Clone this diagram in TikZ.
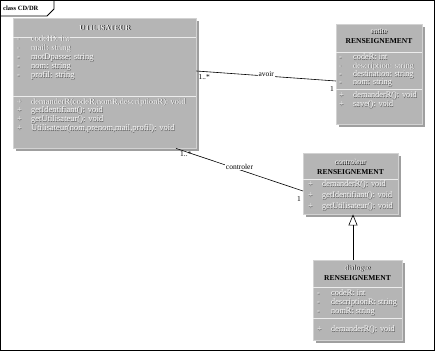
\documentclass[tikz,border=0pt]{standalone}
\usepackage{fontspec}
\setmainfont{Liberation Serif}
\usetikzlibrary{shadows,arrows.meta,calc}
\newcommand\emb[2][gray!70!black]{\leavevmode\rlap{\raisebox{-0.5pt}{\kern0.5pt\textcolor{#1}{#2}}}\textcolor{white}{#2}}
\newcommand\embh[1]{\leavevmode\rlap{\raisebox{-0.7pt}{\kern0.7pt\textcolor{black}{#1}}}\textcolor{white!92!gray}{#1}}
\newcommand\rw[2]{\makebox[14pt][l]{\emb{#1}}\emb{#2}}
\tikzset{
  cls/.style={draw=gray!35, fill=gray!58, anchor=north west, inner sep=0pt,
    drop shadow={shadow xshift=2.5pt, shadow yshift=-2.5pt, fill=gray!75, opacity=1}},
  sep/.style={draw=white!85!gray, line width=0.6pt},
  hdr/.style={inner sep=0pt, align=center, font=\fontsize{7.5}{10}\selectfont},
  comp/.style={inner sep=0pt, anchor=north west, align=left},
  assoc/.style={draw=black, line width=0.6pt},
  lbl/.style={font=\fontsize{7.5}{9}\selectfont, inner sep=1pt},
  mult/.style={font=\fontsize{7.5}{9}\selectfont, inner sep=0pt},
}
\begin{document}
\begin{tikzpicture}[x=1pt,y=-1pt]
\useasboundingbox (0,0) rectangle (435,351);
\fill[white] (0,0) rectangle (435,351);
% frame
\draw[line width=0.8pt] (0.5,0.5) rectangle (434.5,350.5);
\draw[line width=0.8pt] (0.5,16) -- (47,16) -- (54,9) -- (54,0.5);
\node[anchor=west, inner sep=0pt, font=\bfseries\fontsize{6.5}{8}\selectfont] (title) at (3,8.5) {class CD/DR};

% UTILISATEUR
\node[cls, minimum width=183pt, minimum height=130pt] (U) at (13,18) {};
\draw[sep] ($(U.north west)+(0,19)$) -- ($(U.north east)+(0,19)$);
\draw[sep] ($(U.north west)+(0,78)$) -- ($(U.north east)+(0,78)$);
\node[hdr, font=\bfseries\fontsize{7.5}{10}\selectfont] (Uh) at (105,28) {\embh{UTILISATEUR}};
\node[comp, font=\fontsize{8.5}{9.2}\selectfont] (Ua) at (17,35) {\rw{-}{codeID: int}\\ \rw{-}{mail: string}\\ \rw{-}{motDpasse: string}\\ \rw{-}{nom: string}\\ \rw{-}{profil: string}};
\node[comp, font=\fontsize{8.5}{8.8}\selectfont] (Um) at (17,98) {\rw{+}{demanderR(codeR,nomR,descriptionR): void}\\ \rw{+}{getIdentifiant(): void}\\ \rw{+}{getUtilisateur(): void}\\ \rw{+}{Utilisateur(nom,prenom,mail,profil): void}};

% entite RENSEIGNEMENT
\node[cls, minimum width=86pt, minimum height=100pt] (E) at (336,24) {};
\draw[sep] ($(E.north west)+(0,28)$) -- ($(E.north east)+(0,28)$);
\draw[sep] ($(E.north west)+(0,65)$) -- ($(E.north east)+(0,65)$);
\node[hdr] (Eh) at (379,36) {\embh{entite}\\ \textbf{RENSEIGNEMENT}};
\node[comp, font=\fontsize{8.3}{8.3}\selectfont] (Ea) at (339,54) {\rw{-}{codeR: int}\\ \rw{-}{description: string}\\ \rw{-}{destination: string}\\ \rw{-}{nom: string}};
\node[comp, font=\fontsize{8.3}{9}\selectfont] (Em) at (339,92) {\rw{+}{demanderR(): void}\\ \rw{+}{save(): void}};

% controleur RENSEIGNEMENT
\node[cls, minimum width=95pt, minimum height=61pt] (C) at (303,153) {};
\draw[sep] ($(C.north west)+(0,26)$) -- ($(C.north east)+(0,26)$);
\node[hdr] (Ch) at (350.5,167) {\embh{controleur}\\ \textbf{RENSEIGNEMENT}};
\node[comp, font=\fontsize{8.3}{11}\selectfont] (Cm) at (308,181) {\rw{+}{demanderR(): void}\\ \rw{+}{getIdentifiant(): void}\\ \rw{+}{getUtilisateur(): void}};

% dialogue RENSEIGNEMENT
\node[cls, minimum width=89pt, minimum height=80pt] (D) at (313,260) {};
\draw[sep] ($(D.north west)+(0,27)$) -- ($(D.north east)+(0,27)$);
\draw[sep] ($(D.north west)+(0,58)$) -- ($(D.north east)+(0,58)$);
\node[hdr] (Dh) at (357.5,272.5) {\embh{dialogue}\\ \textbf{RENSEIGNEMENT}};
\node[comp, font=\fontsize{8.3}{9}\selectfont] (Da) at (317,290) {\rw{-}{codeR: int}\\ \rw{-}{descriptionR: string}\\ \rw{-}{nomR: string}};
\node[comp, font=\fontsize{8.3}{9}\selectfont] (Dm) at (317,326) {\rw{+}{demanderR(): void}};

% associations
\coordinate (a1) at ($(U.north east)+(0,53)$);
\coordinate (a2) at ($(E.north west)+(0,57)$);
\draw[assoc] (a1) -- node[lbl, fill=white, yshift=2pt] (avoir) {avoir} (a2);
\node[mult, anchor=north west] (m1) at ($(a1)+(2,3)$) {1..*};
\node[mult, anchor=north east] (m2) at ($(a2)+(-2,5)$) {1};

\coordinate (c1) at ($(U.south west)+(163,0)$);
\coordinate (c2) at ($(C.north west)+(0,38)$);
\draw[assoc] (c1) -- node[lbl, fill=white, yshift=3pt] (ctl) {controler} (c2);
\node[mult, anchor=north west] (m3) at ($(c1)+(4,3)$) {1..*};
\node[mult, anchor=north east] (m4) at ($(c2)+(-2,5)$) {1};

% generalization
\draw[assoc, -{Triangle[open, width=9pt, length=11pt]}] (D.north -| 353,0) -- (C.south -| 353,0);
\end{tikzpicture}
\end{document}
